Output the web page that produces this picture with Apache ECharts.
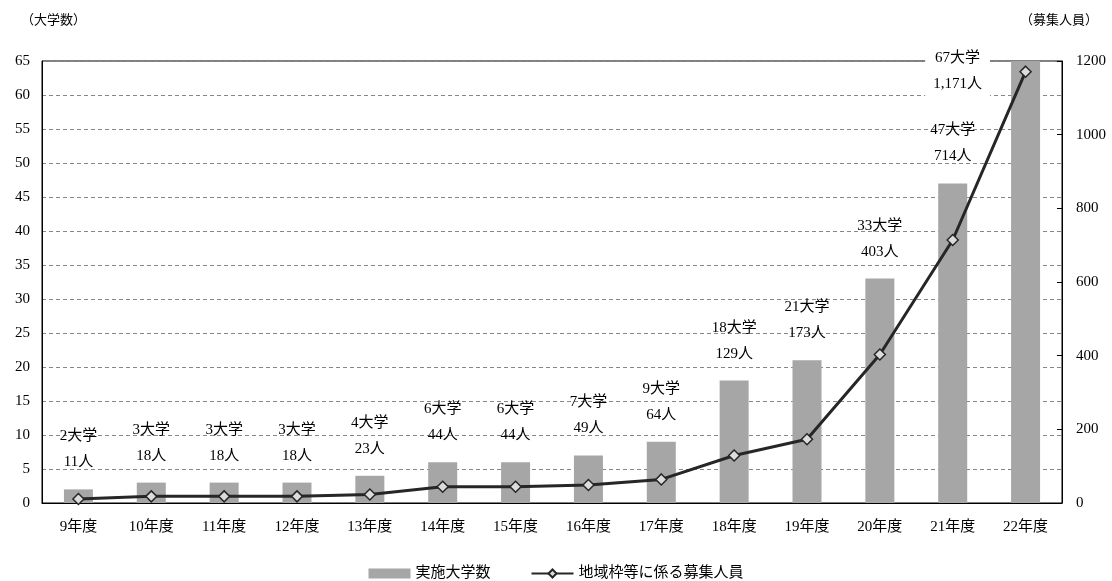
<!DOCTYPE html>
<html><head><meta charset="utf-8">
<script src="https://cdn.jsdelivr.net/npm/echarts@6/dist/echarts.min.js"></script>
<style>html,body{margin:0;padding:0;background:#fff}#c{width:1112px;height:581px}</style>
</head><body><div id="c"></div>
<script>
const categories = ['9年度','10年度','11年度','12年度','13年度','14年度','15年度','16年度','17年度','18年度','19年度','20年度','21年度','22年度'];
const universities = [2,3,3,3,4,6,6,7,9,18,21,33,47,67];
const recruits = [11,18,18,18,23,44,44,49,64,129,173,403,714,1171];
const leftTicks = {min:0, max:65, interval:5};
const rightTicks = {min:0, max:1200, interval:200};
const seriesNames = ['実施大学数','地域枠等に係る募集人員'];

const FONT = "'Liberation Serif','Noto Sans CJK JP',serif";
const chart = echarts.init(document.getElementById('c'), null, {renderer:'canvas'});
const last = universities.length - 1;
const barData = universities.map((v,i)=>{
  const item = {value:v};
  if (i === last) {
    item.label = {position:'top', offset:[-68, 56], backgroundColor:'#fff', padding:[6,8]};
  }
  return item;
});
chart.setOption({
  animation:false,
  textStyle:{fontFamily:FONT},
  grid:{left:42, right:50, top:61, bottom:78, show:true, borderColor:'#000', borderWidth:1, backgroundColor:'transparent'},
  legend:{bottom:-5, left:'center', itemWidth:42, itemHeight:10, itemGap:40,
    textStyle:{fontFamily:FONT, fontSize:15, color:'#000'},
    data:[{name:seriesNames[0], icon:'rect'}, {name:seriesNames[1]}]},
  xAxis:{type:'category', data:categories,
    axisLine:{lineStyle:{color:'#000', width:1}},
    axisTick:{inside:true, length:5, lineStyle:{color:'#000'}},
    axisLabel:{fontFamily:FONT, fontSize:15, color:'#000', margin:17}},
  yAxis:[
    {type:'value', min:leftTicks.min, max:leftTicks.max, interval:leftTicks.interval,
      name:'（大学数）', nameLocation:'end', nameGap:34,
      nameTextStyle:{fontFamily:FONT, fontSize:13, color:'#000', align:'left', padding:[0,0,0,-21]},
      axisLine:{show:true, lineStyle:{color:'#000'}},
      axisTick:{show:false},
      axisLabel:{fontFamily:FONT, fontSize:15, color:'#000', margin:12},
      splitLine:{show:true, lineStyle:{color:'#888', type:[4,3], width:1}}},
    {type:'value', min:rightTicks.min, max:rightTicks.max, interval:rightTicks.interval,
      name:'（募集人員）', nameLocation:'end', nameGap:34,
      nameTextStyle:{fontFamily:FONT, fontSize:13, color:'#000', align:'center', padding:[0,0,0,-6]},
      axisLine:{show:true, lineStyle:{color:'#000'}},
      axisTick:{show:true, inside:true, length:5, lineStyle:{color:'#000'}},
      axisLabel:{fontFamily:FONT, fontSize:15, color:'#000', margin:14, formatter:(v)=>String(v)},
      splitLine:{show:false}}
  ],
  series:[
    {name:seriesNames[0], type:'bar', yAxisIndex:0, data:barData, barWidth:29,
      itemStyle:{color:'#a6a6a6'},
      label:{show:true, position:'top', distance:14, fontFamily:FONT, fontSize:15, color:'#000', lineHeight:26,
        formatter:(p)=>`${universities[p.dataIndex]}大学\n${recruits[p.dataIndex].toLocaleString('en-US')}人`}},
    {name:seriesNames[1], type:'line', yAxisIndex:1, data:recruits,
      symbol:'diamond', symbolSize:11, showAllSymbol:true,
      lineStyle:{color:'#262626', width:3},
      itemStyle:{color:'#dcdcdc', borderColor:'#262626', borderWidth:1.5},
      z:5}
  ]
});
</script></body></html>
